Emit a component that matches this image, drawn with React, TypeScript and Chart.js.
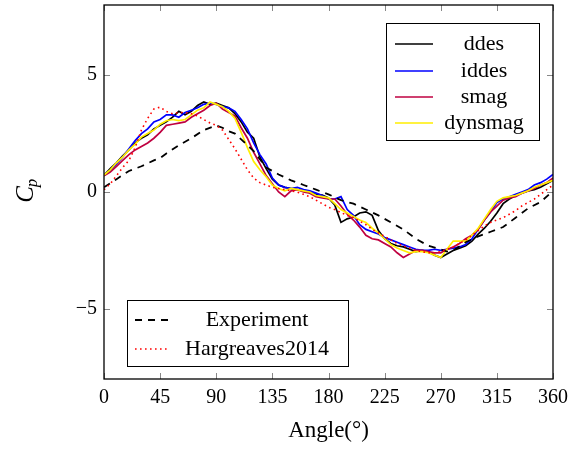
import React, { useEffect, useRef } from 'react';
import { Chart, registerables } from 'chart.js';

Chart.register(...registerables);

// ---------- data ----------
const simAngles = [
  0, 5, 10, 15, 20, 25, 30, 35, 40, 45, 50, 55, 60, 65, 70, 75, 80, 85, 90, 95,
  100, 105, 110, 115, 120, 125, 130, 135, 140, 145, 150, 155, 160, 165, 170, 175,
  180, 185, 190, 195, 200, 205, 210, 215, 220, 225, 230, 235, 240, 245, 250, 255,
  260, 265, 270, 275, 280, 285, 290, 295, 300, 305, 310, 315, 320, 325, 330, 335,
  340, 345, 350, 355, 360,
];

const ddes = [
  0.72, 1.0, 1.25, 1.55, 1.8, 2.1, 2.3, 2.45, 2.7, 2.85, 3.0, 3.2, 3.45, 3.3, 3.45, 3.7, 3.85, 3.75, 3.8, 3.7,
  3.6, 3.35, 3.0, 2.56, 2.3, 1.5, 1.0, 0.55, 0.3, 0.2, 0.15, 0.1, 0.05, 0.0, -0.1, -0.13,
  -0.25, -0.55, -1.3, -1.15, -1.07, -0.9, -0.85, -1.0, -1.65, -2.0, -2.2, -2.3, -2.35, -2.45, -2.55, -2.5,
  -2.55, -2.7, -2.8, -2.65, -2.5, -2.4, -2.3, -2.1, -1.8, -1.55, -1.25, -0.9, -0.5, -0.3, -0.15, -0.05,
  0.05, 0.1, 0.2, 0.35, 0.5,
];

const iddes = [
  0.7, 0.9, 1.2, 1.5, 1.85, 2.2, 2.5, 2.7, 3.0, 3.1, 3.3, 3.3, 3.2, 3.4, 3.5, 3.6, 3.75, 3.8, 3.75, 3.65,
  3.6, 3.45, 3.1, 2.7, 2.1, 1.6, 1.2, 0.6, 0.3, 0.2, 0.15, 0.2, 0.1, 0.05, -0.05, -0.15,
  -0.3, -0.3, -0.2, -0.75, -1.0, -1.4, -1.6, -1.7, -1.8, -1.95, -2.05, -2.15, -2.25, -2.35, -2.45, -2.5,
  -2.5, -2.45, -2.5, -2.45, -2.4, -2.35, -2.25, -2.0, -1.6, -1.2, -0.85, -0.45, -0.3, -0.2, -0.1, 0.0,
  0.1, 0.3, 0.4, 0.55, 0.75,
];

const smag = [
  0.7, 0.85, 1.1, 1.35, 1.6, 1.8, 1.95, 2.1, 2.3, 2.55, 2.85, 2.9, 2.95, 3.0, 3.2, 3.35, 3.5, 3.7, 3.8, 3.55,
  3.4, 3.25, 2.75, 2.3, 1.7, 1.2, 0.7, 0.35, 0.0, -0.2, 0.05, 0.1, 0.0, -0.05, -0.2, -0.25,
  -0.3, -0.3, -0.6, -0.95, -1.2, -1.5, -1.85, -2.0, -2.05, -2.2, -2.35, -2.6, -2.8, -2.65, -2.5, -2.5,
  -2.55, -2.6, -2.6, -2.45, -2.35, -2.2, -2.0, -1.85, -1.6, -1.2, -0.85, -0.6, -0.35, -0.25, -0.2, -0.05,
  0.05, 0.15, 0.3, 0.4, 0.6,
];

const dynsmag = [
  0.72, 0.95, 1.25, 1.5, 1.8, 2.05, 2.35, 2.5, 2.65, 2.9, 3.05, 3.1, 3.05, 3.1, 3.3, 3.5, 3.6, 3.85, 3.75, 3.65,
  3.45, 3.15, 2.55, 1.9, 1.3, 0.95, 0.65, 0.3, 0.15, 0.05, 0.15, 0.1, 0.05, 0.0, -0.15, -0.2,
  -0.25, -0.5, -0.75, -0.9, -1.05, -1.2, -1.3, -1.55, -1.75, -2.0, -2.25, -2.4, -2.5, -2.6, -2.55, -2.55,
  -2.6, -2.7, -2.8, -2.45, -2.1, -2.1, -2.1, -1.85, -1.55, -1.15, -0.75, -0.4, -0.25, -0.2, -0.15, -0.05,
  0.05, 0.2, 0.3, 0.4, 0.5,
];

const expAngles = [
  0, 10, 20, 30, 40, 45, 50, 60, 70, 80, 90, 95, 100, 105, 110, 120, 130, 140, 150, 160,
  170, 180, 190, 200, 210, 220, 230, 240, 250, 260, 270, 275, 280, 290, 300, 310, 320, 330, 340, 350, 360,
];
const experiment = [
  0.2, 0.55, 0.9, 1.1, 1.35, 1.45, 1.65, 2.0, 2.3, 2.65, 2.85, 2.75, 2.6, 2.5, 2.25, 1.75, 1.05, 0.75, 0.5, 0.3,
  0.1, -0.1, -0.35, -0.5, -0.75, -1.0, -1.3, -1.6, -2.0, -2.3, -2.45, -2.55, -2.5, -2.15, -1.9, -1.7, -1.5, -1.1, -0.7, -0.43, 0.05,
];

const hargreaves2014 = [
  0.1, 0.35, 0.7, 1.05, 1.35, 1.9, 2.65, 3.15, 3.55, 3.63, 3.45, 3.35, 3.4, 3.4, 3.35, 3.25, 3.1, 2.95, 2.85, 2.65,
  2.25, 1.85, 1.4, 0.95, 0.6, 0.4, 0.3, 0.2, 0.15, 0.1, 0.05, 0.0, -0.1, -0.2, -0.35, -0.5,
  -0.65, -0.75, -0.88, -1.0, -1.1, -1.25, -1.4, -1.6, -1.75, -1.9, -2.05, -2.2, -2.3, -2.4, -2.5, -2.55,
  -2.6, -2.6, -2.55, -2.45, -2.35, -2.2, -2.05, -1.85, -1.65, -1.45, -1.3, -1.2, -1.1, -0.95, -0.8, -0.6,
  -0.45, -0.3, -0.1, 0.1, 0.3,
];

const xTickValues = [0, 45, 90, 135, 180, 225, 270, 315, 360];
const yTickValues = [-5, 0, 5];
const xTitle = 'Angle(°)';
const yTitleMain = 'C';
const yTitleSub = 'p';

const FONT = '"Liberation Serif", "DejaVu Serif", serif';

function pts(xs: number[], ys: number[]) {
  return xs.map((x, i) => ({ x, y: ys[i] }));
}

function drawLegend(ctx: CanvasRenderingContext2D, chart: any, idxs: number[], box: { l: number; t: number; r: number; b: number }, rows: number[], lineX: [number, number], textX: number) {
  ctx.save();
  ctx.fillStyle = '#fff';
  ctx.fillRect(box.l, box.t, box.r - box.l, box.b - box.t);
  ctx.strokeStyle = '#000';
  ctx.lineWidth = 1;
  ctx.setLineDash([]);
  ctx.strokeRect(box.l + 0.5, box.t + 0.5, box.r - box.l, box.b - box.t);
  idxs.forEach((di, k) => {
    const ds = chart.data.datasets[di];
    const y = rows[k];
    ctx.save();
    ctx.strokeStyle = ds.borderColor;
    ctx.lineWidth = ds.borderWidth;
    ctx.setLineDash(ds.borderDash || []);
    ctx.beginPath();
    ctx.moveTo(lineX[0], y);
    ctx.lineTo(lineX[1], y);
    ctx.stroke();
    ctx.restore();
    ctx.fillStyle = '#000';
    ctx.font = `22px ${FONT}`;
    ctx.textAlign = 'center';
    ctx.textBaseline = 'middle';
    ctx.fillText(ds.label, textX, y);
  });
  ctx.restore();
}

const decorPlugin = {
  id: 'decor',
  afterDatasetsDraw(chart: any) {
    const { ctx, chartArea: a, scales } = chart;
    ctx.save();
    ctx.strokeStyle = '#888';
    ctx.lineWidth = 1;
    const tl = 6;
    for (const v of xTickValues) {
      const px = Math.round(scales.x.getPixelForValue(v)) + 0.5;
      ctx.beginPath();
      ctx.moveTo(px, a.bottom);
      ctx.lineTo(px, a.bottom - tl);
      ctx.moveTo(px, a.top);
      ctx.lineTo(px, a.top + tl);
      ctx.stroke();
    }
    for (const v of yTickValues) {
      const py = Math.round(scales.y.getPixelForValue(v)) + 0.5;
      ctx.beginPath();
      ctx.moveTo(a.left, py);
      ctx.lineTo(a.left + tl, py);
      ctx.moveTo(a.right, py);
      ctx.lineTo(a.right - tl, py);
      ctx.stroke();
    }
    ctx.strokeStyle = '#000';
    ctx.lineWidth = 1.3;
    ctx.strokeRect(a.left, a.top, a.right - a.left, a.bottom - a.top);
    ctx.restore();

    drawLegend(ctx, chart, [0, 1, 2, 3], { l: 386, t: 23, r: 539, b: 140 }, [44, 71, 97, 123], [395, 433], 484);
    drawLegend(ctx, chart, [4, 5], { l: 127, t: 300, r: 348, b: 366 }, [320, 349], [135, 170], 257);

    // y-axis title C_p
    ctx.save();
    ctx.translate(25, 190);
    ctx.rotate(-Math.PI / 2);
    ctx.fillStyle = '#000';
    ctx.textBaseline = 'alphabetic';
    ctx.textAlign = 'left';
    ctx.font = `italic 25px ${FONT}`;
    const wC = ctx.measureText(yTitleMain).width;
    const total = wC + 9;
    ctx.fillText(yTitleMain, -total / 2, 8);
    ctx.font = `italic 17px ${FONT}`;
    ctx.fillText(yTitleSub, -total / 2 + wC - 1, 12);
    ctx.restore();
  },
};

export default function App() {
  const ref = useRef<HTMLCanvasElement | null>(null);
  useEffect(() => {
    if (!ref.current) return;
    const mk = (label: string, data: any[], color: string, width: number, dash: number[] | undefined, order: number) => ({
      label,
      data,
      borderColor: color,
      backgroundColor: color,
      borderWidth: width,
      borderDash: dash,
      pointRadius: 0,
      tension: 0,
      fill: false,
      order,
    });
    const chart = new Chart(ref.current, {
      type: 'line',
      data: {
        datasets: [
          mk('ddes', pts(simAngles, ddes), '#000000', 1.7, undefined, 6),
          mk('iddes', pts(simAngles, iddes), '#0000ff', 1.7, undefined, 5),
          mk('smag', pts(simAngles, smag), '#bf0040', 1.7, undefined, 4),
          mk('dynsmag', pts(simAngles, dynsmag), '#ffee00', 1.7, undefined, 3),
          mk('Experiment', pts(expAngles, experiment), '#000000', 1.8, [7, 6], 2),
          mk('Hargreaves2014', pts(simAngles, hargreaves2014), '#ff0000', 1.6, [1.6, 3.4], 1),
        ],
      },
      options: {
        responsive: false,
        animation: false,
        events: [],
        layout: { padding: { top: 5, right: 19, left: 0, bottom: 0 } },
        plugins: { legend: { display: false }, tooltip: { enabled: false }, title: { display: false } },
        scales: {
          x: {
            type: 'linear',
            min: 0,
            max: 360,
            afterBuildTicks: (s: any) => { s.ticks = xTickValues.map((v) => ({ value: v })); },
            afterFit: (s: any) => { s.height = 74; s.paddingLeft = 0; s.paddingRight = 0; },
            grid: { display: false, drawTicks: false },
            border: { display: false },
            ticks: { color: '#000', font: { family: FONT, size: 20 }, padding: 7, maxRotation: 0, autoSkip: false, callback: (v: any) => String(v) },
            title: { display: true, text: xTitle, color: '#000', font: { family: FONT, size: 23 }, padding: { top: 0, bottom: 8 } },
          },
          y: {
            type: 'linear',
            min: -8,
            max: 8,
            afterBuildTicks: (s: any) => { s.ticks = yTickValues.map((v) => ({ value: v })); },
            afterFit: (s: any) => { s.width = 104; s.paddingTop = 0; s.paddingBottom = 0; },
            grid: { display: false, drawTicks: false },
            border: { display: false },
            ticks: { color: '#000', font: { family: FONT, size: 20 }, padding: 7, autoSkip: false, callback: (v: any) => (v < 0 ? '\u2212' + Math.abs(v) : String(v)) },
            title: { display: false },
          },
        },
      },
      plugins: [decorPlugin],
    } as any);
    return () => chart.destroy();
  }, []);
  return (
    <div style={{ position: 'absolute', left: 0, top: 0, width: 572, height: 453, background: '#fff' }}>
      <canvas ref={ref} width={572} height={453} />
    </div>
  );
}
